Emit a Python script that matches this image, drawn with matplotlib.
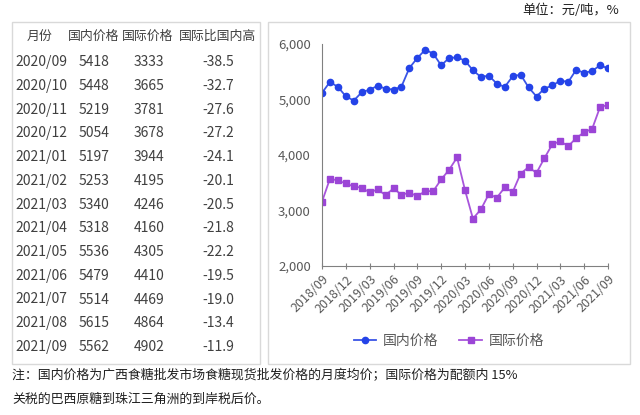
import matplotlib.pyplot as plt
from matplotlib.patches import Rectangle

plt.rcParams['font.family'] = ['Noto Sans CJK SC', 'DejaVu Sans']

# monthly prices 2018/09 .. 2021/09
months = ['2018/09', '2018/10', '2018/11', '2018/12', '2019/01', '2019/02', '2019/03',
          '2019/04', '2019/05', '2019/06', '2019/07', '2019/08', '2019/09', '2019/10',
          '2019/11', '2019/12', '2020/01', '2020/02', '2020/03', '2020/04', '2020/05',
          '2020/06', '2020/07', '2020/08', '2020/09', '2020/10', '2020/11', '2020/12',
          '2021/01', '2021/02', '2021/03', '2021/04', '2021/05', '2021/06', '2021/07',
          '2021/08', '2021/09']
domestic = [5119, 5317, 5226, 5058, 4980, 5130, 5178, 5245, 5196, 5178, 5232, 5568,
            5748, 5897, 5826, 5615, 5748, 5759, 5700, 5525, 5406, 5430, 5286, 5226,
            5418, 5448, 5219, 5054, 5197, 5253, 5340, 5318, 5536, 5479, 5514, 5615, 5562]
international = [3158, 3572, 3541, 3487, 3433, 3410, 3325, 3379, 3277, 3397, 3284, 3320,
                 3259, 3349, 3349, 3559, 3734, 3955, 3367, 2853, 3020, 3295, 3230, 3415,
                 3333, 3665, 3781, 3678, 3944, 4195, 4246, 4160, 4305, 4410, 4469, 4864, 4902]

table_header = ['月份', '国内价格', '国际价格', '国际比国内高']
table_months = ['2020/09', '2020/10', '2020/11', '2020/12', '2021/01', '2021/02', '2021/03',
                '2021/04', '2021/05', '2021/06', '2021/07', '2021/08', '2021/09']
table_dom = [5418, 5448, 5219, 5054, 5197, 5253, 5340, 5318, 5536, 5479, 5514, 5615, 5562]
table_intl = [3333, 3665, 3781, 3678, 3944, 4195, 4246, 4160, 4305, 4410, 4469, 4864, 4902]
table_diff = [-38.5, -32.7, -27.6, -27.2, -24.1, -20.1, -20.5, -21.8, -22.2, -19.5,
              -19.0, -13.4, -11.9]

note1 = '注：国内价格为广西食糖批发市场食糖现货批发价格的月度均价；国际价格为配额内 15%'
note2 = '关税的巴西原糖到珠江三角洲的到岸税后价。'

W, H = 640, 415
fig = plt.figure(figsize=(W / 100, H / 100), dpi=100)


def fx(px):
    return px / W


def fy(py):
    return 1 - py / H


# boxes around table and chart
for x0, x1 in [(12, 260), (268, 630)]:
    fig.patches.append(Rectangle((fx(x0), fy(364)), fx(x1) - fx(x0), fy(22) - fy(364),
                                 transform=fig.transFigure, fill=False,
                                 edgecolor='#d9d9d9', linewidth=1.0))

tc = '#404040'
fs = 10
fig.text(fx(40), fy(36), table_header[0], ha='center', va='center', fontsize=9.3, color=tc)
fig.text(fx(94), fy(36), table_header[1], ha='center', va='center', fontsize=9.3, color=tc)
fig.text(fx(148), fy(36), table_header[2], ha='center', va='center', fontsize=9.3, color=tc)
fig.text(fx(218), fy(36), table_header[3], ha='center', va='center', fontsize=9.3, color=tc)
for i, m in enumerate(table_months):
    y = fy(62 + i * 23.75)
    fig.text(fx(15), y, m, ha='left', va='center', fontsize=fs, color=tc)
    fig.text(fx(79), y, str(table_dom[i]), ha='left', va='center', fontsize=fs, color=tc)
    fig.text(fx(134), y, str(table_intl[i]), ha='left', va='center', fontsize=fs, color=tc)
    fig.text(fx(234), y, '%.1f' % table_diff[i], ha='right', va='center', fontsize=fs, color=tc)

# line chart
ax = fig.add_axes([fx(322), fy(266), fx(608) - fx(322), fy(44) - fy(266)])
x = list(range(len(months)))
ax.plot(x, domestic, '-o', color='#3a55e6', markerfacecolor='#2443e8',
        markeredgecolor='#2443e8', markersize=4.5, linewidth=1.3, label='国内价格')
ax.plot(x, international, '-s', color='#a855dc', markerfacecolor='#9b45d6',
        markeredgecolor='#9b45d6', markersize=4.2, linewidth=1.3, label='国际价格')
ax.set_xlim(0, len(months) - 1)
ax.set_ylim(2000, 6000)
ax.set_yticks([2000, 3000, 4000, 5000, 6000])
ax.set_yticklabels(['2,000', '3,000', '4,000', '5,000', '6,000'])
ax.set_xticks(x[::3])
ax.set_xticklabels(months[::3], rotation=45, ha='right', rotation_mode='anchor')
ax.tick_params(axis='x', colors='#808080', labelcolor='#595959', labelsize=9,
               length=4, direction='inout', pad=3)
ax.tick_params(axis='y', length=0, labelcolor='#595959', labelsize=9.5, pad=8)
for s in ['top', 'right']:
    ax.spines[s].set_visible(False)
ax.spines['left'].set_color('#808080')
ax.spines['bottom'].set_color('#808080')
ax.patch.set_alpha(0)

fig.legend(loc='center', bbox_to_anchor=(fx(449), fy(341)), ncol=2, frameon=False,
           fontsize=10, labelcolor='#595959', handlelength=1.6, columnspacing=1.5,
           handletextpad=0.5)

fig.text(fx(619), fy(10), '单位：元/吨，%', ha='right', va='center', fontsize=9.5, color='#202020')
fig.text(fx(12), fy(376), note1, ha='left', va='center', fontsize=9.3, color='#202020')
fig.text(fx(12), fy(399), note2, ha='left', va='center', fontsize=9.3, color='#202020')

fig.savefig('out.png', dpi=100)
